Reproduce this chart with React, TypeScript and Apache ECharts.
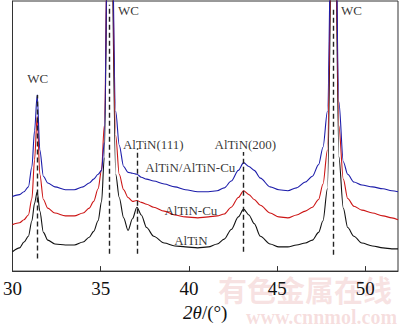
import React, { useEffect, useRef } from "react";
import * as echarts from "echarts";

const SERIF = "'Liberation Serif', 'Times New Roman', serif";

// 2θ sample positions (degrees)
const twoTheta = [
  30.0, 30.4, 30.65, 30.9, 31.1, 31.25, 31.4, 31.55, 31.75, 32.0, 32.4, 33.0, 33.5, 34.0, 34.35, 34.6,
  34.85, 35.05, 35.2, 35.5, 35.85, 36.05, 36.3, 36.55, 36.8, 37.05, 37.3, 37.6, 38.0, 38.6, 39.2, 39.8,
  40.5, 41.1, 41.6, 42.0, 42.4, 42.8, 43.1, 43.4, 43.7, 44.05, 44.6, 45.1, 45.6, 46.1, 46.6, 47.0,
  47.35, 47.6, 47.85, 48.2, 48.5, 48.75, 49.0, 49.35, 49.8, 50.4, 51.0, 51.5, 51.85,
];

// Intensity (arbitrary units, offset patterns)
const altinValues = [
  20, 24, 30, 36, 52, 70, 82, 62, 40, 32, 28, 27, 27, 30, 35, 41,
  52, 72, 117, 520, 100, 76, 55, 42, 54, 66, 58, 45, 36, 29, 26, 25,
  24, 25, 28, 33, 43, 56, 64, 58, 49, 36, 28, 25, 25, 27, 29, 32,
  40, 52, 85, 520, 118, 65, 45, 36, 29, 26, 24, 23, 23,
];
const altinCuValues = [
  48, 50, 53, 58, 75, 115, 160, 100, 74, 65, 60, 57, 57, 60, 65, 72,
  85, 105, 150, 530, 140, 100, 84, 76, 72, 73, 71, 69, 66, 62, 58, 56,
  55, 56, 57, 59, 66, 76, 83, 79, 74, 68, 60, 56, 55, 58, 62, 66,
  74, 90, 125, 530, 150, 95, 75, 67, 63, 60, 57, 55, 53,
];
const multiValues = [
  77, 79, 82, 87, 108, 145, 182, 125, 98, 91, 87, 84, 84, 87, 91, 95,
  100, 104, 133, 540, 165, 130, 108, 102, 101, 100, 97, 95, 93, 90, 87, 84,
  82, 82, 83, 86, 93, 104, 112, 108, 104, 96, 87, 84, 83, 86, 92, 98,
  110, 128, 165, 540, 175, 113, 100, 92, 89, 87, 85, 83, 82,
];

// dashed peak-position lines
const peakPositions = [31.4, 35.5, 37.05, 43.1, 48.2];
const peakLineTop = [182, 275, 127, 123, 272];
const peakLineBottom = [13, 18, 18, 20, 17];

// annotations
const annText = ["WC", "WC", "WC", "AlTiN(111)", "AlTiN(200)", "AlTiN/AlTiN-Cu", "AlTiN-Cu", "AlTiN"];
const annX = [31.43, 36.57, 49.21, 37.98, 43.2, 40.08, 40.11, 40.11];
const annY = [199, 269.5, 269.5, 131, 131, 107, 63, 32];

const xTicks = [30, 35, 40, 45, 50];

export default function App() {
  const ref = useRef<HTMLDivElement>(null);
  useEffect(() => {
    document.body.style.margin = "0";
    if (!ref.current) return;
    const chart = echarts.init(ref.current, null, { renderer: "svg" });
    const pair = (vals: number[]) => twoTheta.map((x, i) => [x, vals[i]]);
    const lineSeries = (name: string, vals: number[], color: string) => ({
      name,
      type: "line",
      data: pair(vals),
      showSymbol: false,
      symbol: "none",
      smooth: 0.3,
      smoothMonotone: "x",
      clip: true,
      lineStyle: { color, width: 1.1 },
      silent: true,
    });
    const option: any = {
      animation: false,
      textStyle: { fontFamily: SERIF },
      grid: { left: 9, right: 2, top: 1, bottom: 47, show: true, borderColor: "#333", borderWidth: 1 },
      graphic: [
        {
          type: "text",
          left: 218,
          top: 274,
          z: -10,
          style: {
            text: "有色金属在线",
            fontSize: 29,
            fontWeight: "bold",
            fontFamily: "'Noto Sans CJK SC', sans-serif",
            fill: "rgba(225,140,140,0.25)",
          },
        },
        {
          type: "text",
          left: 246,
          top: 307,
          z: -10,
          style: {
            text: "www.cnnmol.com",
            fontSize: 20,
            fontWeight: "bold",
            fontFamily: SERIF,
            fill: "rgba(225,140,140,0.28)",
          },
        },
      ],
      xAxis: {
        type: "value",
        min: 30,
        max: 51.85,
        interval: 5,
        splitLine: { show: false },
        axisLine: { lineStyle: { color: "#333", width: 1 } },
        axisTick: { inside: true, length: 5, lineStyle: { color: "#333" } },
        axisLabel: {
          fontSize: 19,
          color: "#111",
          margin: 8,
          fontFamily: SERIF,
          showMaxLabel: false,
          formatter: (v: number) => (xTicks.includes(v) ? String(v) : ""),
        },
        name: "{i|2θ}{n|/(°)}",
        nameLocation: "middle",
        nameGap: 21,
        nameTextStyle: {
          rich: {
            i: { fontStyle: "italic", fontSize: 19, fontFamily: SERIF, color: "#111" },
            n: { fontSize: 19, fontFamily: SERIF, color: "#111" },
          },
        },
      },
      yAxis: {
        type: "value",
        min: 0,
        max: 279,
        axisLine: { show: true, lineStyle: { color: "#333" } },
        axisTick: { show: false },
        axisLabel: { show: false },
        splitLine: { show: false },
      },
      series: [
        lineSeries("AlTiN", altinValues, "#111111"),
        lineSeries("AlTiN-Cu", altinCuValues, "#cc1515"),
        {
          ...lineSeries("AlTiN/AlTiN-Cu", multiValues, "#1c1caa"),
          markLine: {
            silent: true,
            symbol: ["none", "none"],
            label: { show: false },
            lineStyle: { type: [5, 3], color: "#222", width: 1.4 },
            data: peakPositions.map((p, i) => [
              { coord: [p, peakLineBottom[i]] },
              { coord: [p, peakLineTop[i]] },
            ]),
          },
        },
        {
          type: "scatter",
          symbolSize: 0,
          silent: true,
          data: annX.map((x, i) => [x, annY[i], annText[i]]),
          label: {
            show: true,
            position: "inside",
            formatter: (p: any) => p.data[2],
            fontSize: 13,
            color: "#000",
            fontFamily: SERIF,
          },
          z: 5,
        },
      ],
    };
    chart.setOption(option);
    return () => chart.dispose();
  }, []);
  return <div ref={ref} style={{ width: 400, height: 327 }} />;
}
